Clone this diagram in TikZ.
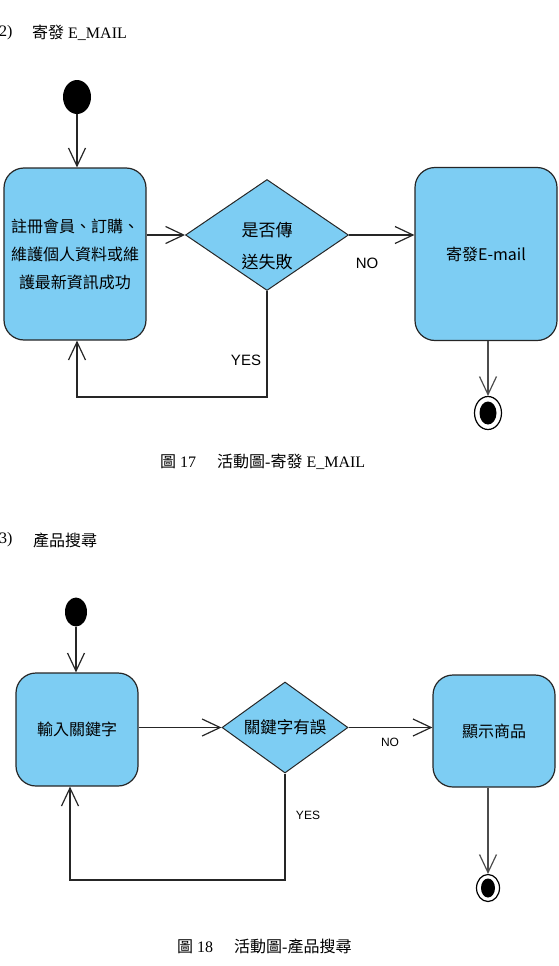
\documentclass[tikz,border=0pt]{standalone}
\usepackage{fontspec}
\setmainfont{Liberation Serif}
\newfontfamily\cjk{Noto Sans CJK TC}
\newfontfamily\lblfont{Liberation Sans}
\usetikzlibrary{positioning, calc, shapes.geometric, arrows.meta}
\definecolor{stateBlue}{RGB}{125, 205, 243}

\begin{document}
\begin{tikzpicture}[
    x=1pt, y=-1pt,
    action/.style={rectangle, rounded corners=20pt, draw=black!85, line width=1.2pt,
                   fill=stateBlue, align=center, inner sep=2pt,
                   font=\cjk\fontsize{16}{28}\selectfont},
    decision/.style={diamond, draw=black!85, line width=1pt, fill=stateBlue,
                     align=center, inner sep=0pt, font=\cjk\fontsize{17}{32}\selectfont},
    initial/.style={ellipse, fill=black, inner sep=0pt},
    final/.style={ellipse, draw=black, line width=1.2pt, fill=white, inner sep=0pt},
    flow/.style={-{Straight Barb[length=18pt, width=17pt]}, line width=1.2pt, draw=black!85},
    guard/.style={font=\lblfont\fontsize{15}{17}\selectfont, inner sep=0pt},
    heading/.style={anchor=west, font=\fontsize{16}{18}\selectfont, inner sep=0pt},
  ]
    \useasboundingbox (0,0) rectangle (558,966);

    % 2) send e-mail
    \node[heading] (sec2num) at (-1,33) {2)};
    \node[heading] (sec2) at (32,33) {{\cjk 寄發} E\_MAIL};

    \node[initial, minimum width=28pt, minimum height=34pt] (start1) at (77,97) {};
    \node[action, minimum width=142pt, minimum height=172pt] (reg) at (75,254)
        {註冊會員、訂購、\\維護個人資料或維\\護最新資訊成功};
    % text sits low in the diamond, so it goes in a shifted label
    \node[decision, minimum width=163pt, minimum height=111pt, aspect=1.47,
          label={[yshift=-11pt, align=center, font=\cjk\fontsize{17}{32}\selectfont]center:是否傳\\送失敗}]
        (fail) at (267,235) {};
    \node[action, minimum width=142pt, minimum height=173pt] (send) at (486,254) {寄發E-mail};
    \node[final, minimum width=27pt, minimum height=33pt] (end1) at (488,413) {};
    \node[initial, minimum width=17pt, minimum height=23pt] (end1dot) at (end1) {};
    \coordinate (loop1) at (77,397);

    \node[guard] (no1) at (367,263) {NO};
    \node[guard] (yes1) at (246,360) {YES};

    \draw[flow] (start1) -- (start1 |- reg.north);
    \draw[flow] (reg.east |- fail) -- (fail);
    \draw[flow] (fail.east) -- (fail.east -| send.west);
    \draw[flow] (fail.south) |- (loop1) -- (loop1 |- reg.south);
    \draw[flow, draw=black!70] (send.south -| end1) -- (end1);

    \node[font=\fontsize{16}{18}\selectfont, anchor=west, inner sep=0pt] (cap17) at (160,462)
        {{\cjk 圖} 17\hspace{21pt}{\cjk 活動圖}-{\cjk 寄發} E\_MAIL};

    % 3) product search
    \node[heading] (sec3num) at (-1,540) {3)};
    \node[heading] (sec3) at (33,540) {\cjk 產品搜尋};

    \node[initial, minimum width=22pt, minimum height=29pt] (start2) at (76,612) {};
    \node[action, minimum width=122pt, minimum height=113pt] (key) at (77,729.5) {輸入關鍵字};
    \node[decision, minimum width=126pt, minimum height=91pt, aspect=1.38,
          font=\cjk\fontsize{16.5}{20}\selectfont] (kwerr) at (285,727.5) {關鍵字有誤};
    \node[action, minimum width=122pt, minimum height=112pt] (show) at (494,731) {顯示商品};
    \node[final, minimum width=23pt, minimum height=27pt] (end2) at (488,888) {};
    \node[initial, minimum width=14pt, minimum height=19pt] (end2dot) at (end2) {};
    \coordinate (loop2) at (70,880);

    \node[guard, font=\lblfont\fontsize{12}{14}\selectfont] (no2) at (390,742) {NO};
    \node[guard, font=\lblfont\fontsize{12}{14}\selectfont] (yes2) at (308,815) {YES};

    \draw[flow] (start2) -- (start2 |- key.north);
    \draw[flow] (key.east |- kwerr) -- (kwerr);
    \draw[flow] (kwerr.east) -- (kwerr.east -| show.west);
    \draw[flow] (kwerr.south) |- (loop2) -- (loop2 |- key.south);
    \draw[flow, draw=black!70] (show.south -| end2) -- (end2);

    \node[font=\fontsize{16}{18}\selectfont, anchor=west, inner sep=0pt] (cap18) at (177,946)
        {{\cjk 圖} 18\hspace{21pt}{\cjk 活動圖}-{\cjk 產品搜尋}};
\end{tikzpicture}
\end{document}
